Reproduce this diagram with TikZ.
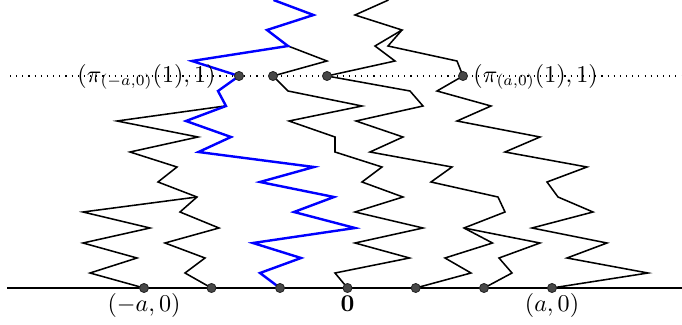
\documentclass[tikz,border=0pt]{standalone}
\begin{document}
\begin{tikzpicture}[x=0.4545pt,y=-0.4545pt,
  walk/.style={line width=0.7pt,line join=miter},
  bluewalk/.style={line width=1.1pt,blue,line join=miter},
  axis/.style={line width=0.55pt},
  dotline/.style={line width=0.5pt,dash pattern=on 0.5pt off 2.3pt},
  pt/.style={circle,fill=black!72,draw=black!85,line width=0.4pt,inner sep=0pt,minimum size=4.1pt},
  lbl/.style={inner sep=0pt,font=\fontsize{10.5}{12}\selectfont}]
\useasboundingbox (0,0) rectangle (682,325);
% axis and dotted level
\coordinate (axL) at (7,288);
\coordinate (axR) at (682,288);
\coordinate (dlL) at (10,76);
\coordinate (dlR) at (682,76);
\draw[axis] (axL) -- (axR);
\draw[dotline] (dlL) -- (dlR);
% starting points
\coordinate (s1) at (144,288);
\coordinate (s2) at (211.5,288);
\coordinate (s3) at (280,288);
\coordinate (s4) at (347.5,288);
\coordinate (s5) at (415.7,288);
\coordinate (s6) at (484,288);
\coordinate (s7) at (552,288);
% points at time 1
\coordinate (t1) at (239,76);
\coordinate (t2) at (273,76);
\coordinate (t3) at (327,76);
\coordinate (t4) at (463,76);
% black walks
\draw[walk] (s1) -- (90,273) -- (137,258) -- (83,243) -- (150,228) -- (83,212) -- (197,197);
\draw[walk] (s2) -- (185,273) -- (205,258) -- (165,243) -- (219,228) -- (180,212) -- (197,197)
  -- (158,182) -- (177,167) -- (130,152) -- (198,137) -- (117,121) -- (225,106);
\draw[walk] (s4) -- (335,273) -- (409.5,258) -- (355,243) -- (423,228) -- (355,212) -- (403,197)
  -- (362,182) -- (382,167) -- (335,152) -- (335,137) -- (289,121) -- (362,106) -- (288,91)
  -- (t2) -- (327,61) -- (288,46);
\draw[walk] (s5) -- (471,273) -- (445,258) -- (492.5,243) -- (464,228) -- (505,212) -- (498,197)
  -- (431,182) -- (452,167) -- (370,152) -- (403,137) -- (356,121) -- (423,106) -- (410,91)
  -- (t3) -- (395,61) -- (375,46) -- (402,30) -- (355,15) -- (388.5,0);
\draw[walk] (s6) -- (512,273) -- (499,258) -- (540,243) -- (464,228);
\draw[walk] (s7) -- (648,273) -- (567,258) -- (607,243) -- (532,228) -- (593,212) -- (558,197)
  -- (547,182) -- (587,167) -- (505,152) -- (540,137) -- (457,121) -- (491,106) -- (437,91)
  -- (t4) -- (457,61) -- (388,46) -- (402,30);
% blue walk
\draw[bluewalk] (s3) -- (260,273) -- (301,258) -- (253,243) -- (355,228) -- (294,212) -- (334,197)
  -- (260,182) -- (314,167) -- (198.5,152) -- (231,137) -- (186,121) -- (226,106) -- (218,91)
  -- (t1) -- (192,61) -- (288,46) -- (267,30) -- (313.5,15) -- (273.5,0);
% dots
\foreach \p in {s1,s2,s3,s4,s5,s6,s7,t1,t2,t3,t4}
  \node[pt] (n\p) at (\p) {};
% labels
\node[lbl,anchor=base] (la) at (144,311) {$(-a,0)$};
\node[lbl,anchor=base] (lz) at (347.5,311) {$\mathbf{0}$};
\node[lbl,anchor=base] (lb) at (552,311) {$(a,0)$};
\node[lbl,anchor=base east] (lp) at (216,82) {$(\pi_{(-a,0)}(1),1)$};
\node[lbl,anchor=base west] (lq) at (473,82) {$(\pi_{(a,0)}(1),1)$};
\end{tikzpicture}
\end{document}
